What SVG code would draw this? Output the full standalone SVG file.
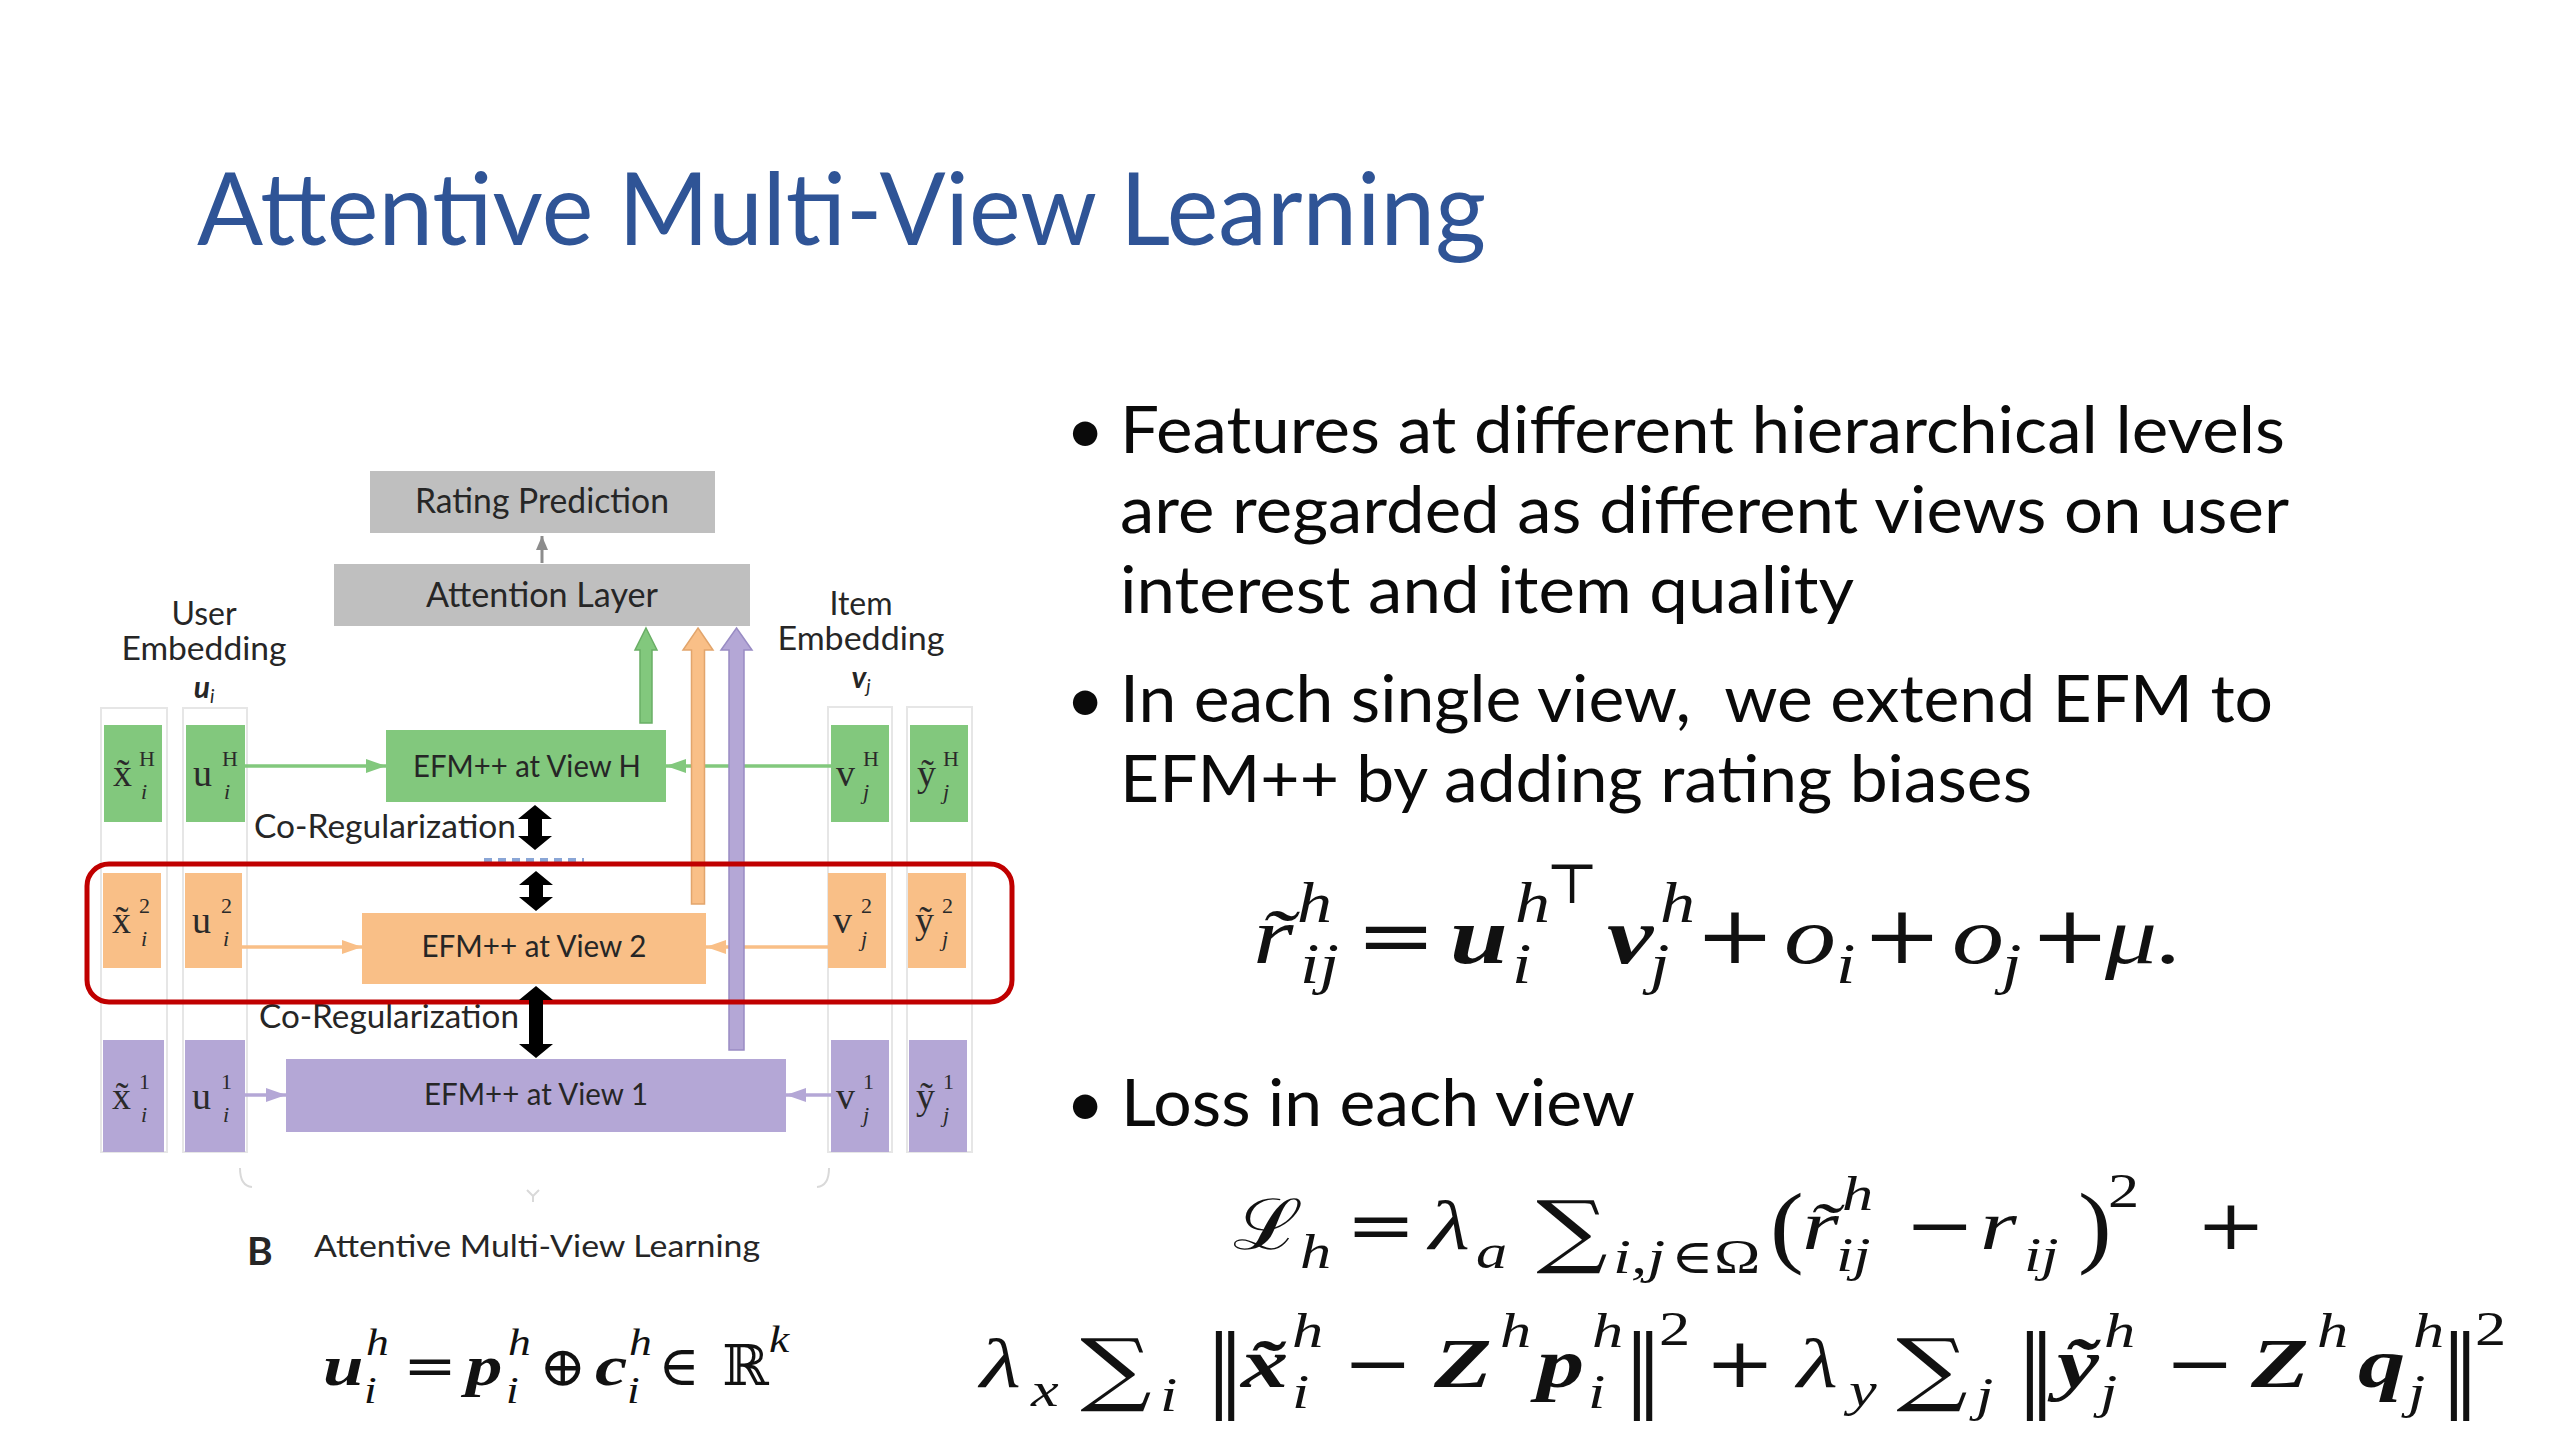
<svg xmlns="http://www.w3.org/2000/svg" width="2560" height="1440" viewBox="0 0 2560 1440">
<style>
.t{font-family:Lato,"Noto Sans",sans-serif;fill:#262626}
.body{font-family:Lato,"Noto Sans",sans-serif;font-size:66px;fill:#0a0a0a}
.lbl{font-family:"Liberation Serif","DejaVu Serif",serif;fill:#2a2a2a}
.m{font-family:"Liberation Serif","DejaVu Serif",serif;fill:#111}
.op{font-family:"DejaVu Serif","Liberation Serif",serif;fill:#111}
.i{font-style:italic}
.b{font-style:italic;font-weight:bold}
.g{fill:#82c87d}
.o{fill:#f9bf87}
.p{fill:#b4a7d6}
.gray{fill:#bfbfbf}
.col{fill:none;stroke:#e6e6e6;stroke-width:2}
.s80{font-size:80px}.s56{font-size:56px}.s70{font-size:70px}.s48{font-size:48px}.s38{font-size:38px}
.lm{font-size:38px}.ls{font-size:22px}
</style>
<defs>
<marker id="aG" markerUnits="userSpaceOnUse" markerWidth="20" markerHeight="14" viewBox="0 0 20 14" refX="20" refY="7" orient="auto"><path d="M0,0 L20,7 L0,14 z" fill="#82c87d"/></marker>
<marker id="aO" markerUnits="userSpaceOnUse" markerWidth="20" markerHeight="14" viewBox="0 0 20 14" refX="20" refY="7" orient="auto"><path d="M0,0 L20,7 L0,14 z" fill="#f9bf87"/></marker>
<marker id="aP" markerUnits="userSpaceOnUse" markerWidth="20" markerHeight="14" viewBox="0 0 20 14" refX="20" refY="7" orient="auto"><path d="M0,0 L20,7 L0,14 z" fill="#b4a7d6"/></marker>
<marker id="aK" markerUnits="userSpaceOnUse" markerWidth="14" markerHeight="12" viewBox="0 0 14 12" refX="14" refY="6" orient="auto"><path d="M0,0 L14,6 L0,12 z" fill="#8c8c8c"/></marker>
</defs>
<rect width="2560" height="1440" fill="#fff"/>

<text x="197" y="245" font-family="Lato,'Noto Sans',sans-serif" font-size="100" fill="#2f5496" textLength="1289" lengthAdjust="spacingAndGlyphs">Attentive Multi-View Learning</text>

<g id="bullets">
<text class="body" x="1066" y="453">•</text>
<text class="body" x="1120" y="453" textLength="1165" lengthAdjust="spacingAndGlyphs">Features at different hierarchical levels</text>
<text class="body" x="1120" y="533" textLength="1169" lengthAdjust="spacingAndGlyphs">are regarded as different views on user</text>
<text class="body" x="1120" y="613" textLength="734" lengthAdjust="spacingAndGlyphs">interest and item quality</text>
<text class="body" x="1066" y="722">•</text>
<text class="body" x="1120" y="722" xml:space="preserve" style="white-space:pre" textLength="1153" lengthAdjust="spacingAndGlyphs">In each single view,  we extend EFM to</text>
<text class="body" x="1120" y="802" textLength="912" lengthAdjust="spacingAndGlyphs">EFM++ by adding rating biases</text>
<text class="body" x="1066" y="1126">•</text>
<text class="body" x="1121" y="1126" textLength="514" lengthAdjust="spacingAndGlyphs">Loss in each view</text>
</g>

<g id="columns">
<rect class="col" x="101" y="708" width="66" height="444"/>
<rect class="col" x="183" y="708" width="64" height="444"/>
<rect class="col" x="828" y="707" width="64" height="445"/>
<rect class="col" x="907" y="707" width="65" height="445"/>
</g>

<g id="connectors">
<line x1="542" y1="563" x2="542" y2="536" stroke="#8c8c8c" stroke-width="3" marker-end="url(#aK)"/>
<line x1="245" y1="766" x2="386" y2="766" stroke="#82c87d" stroke-width="3.5" marker-end="url(#aG)"/>
<line x1="831" y1="766" x2="666" y2="766" stroke="#82c87d" stroke-width="3.5" marker-end="url(#aG)"/>
<line x1="242" y1="947" x2="362" y2="947" stroke="#f9bf87" stroke-width="3.5" marker-end="url(#aO)"/>
<line x1="828" y1="947" x2="706" y2="947" stroke="#f9bf87" stroke-width="3.5" marker-end="url(#aO)"/>
<line x1="245" y1="1095" x2="286" y2="1095" stroke="#b4a7d6" stroke-width="3.5" marker-end="url(#aP)"/>
<line x1="831" y1="1095" x2="786" y2="1095" stroke="#b4a7d6" stroke-width="3.5" marker-end="url(#aP)"/>
<polygon points="646,628 657,650 652,650 652,723 640,723 640,650 635,650" fill="#82c87d" stroke="#6aae66" stroke-width="1.5"/>
<polygon points="698,628 713,650 704.5,650 704.5,904 691.5,904 691.5,650 683,650" fill="#f9bf87" stroke="#e2a56c" stroke-width="1.5"/>
<polygon points="736.5,628 752,650 744,650 744,1050 729,1050 729,650 721,650" fill="#b4a7d6" stroke="#998cc4" stroke-width="1.5"/>
<polygon points="535,805 552,819 542,819 542,836 552,836 535,850 518,836 528,836 528,819 518,819" fill="#000"/>
<line x1="484" y1="860" x2="584" y2="860" stroke="#8aa6d6" stroke-width="4" stroke-dasharray="8 6"/>
<polygon points="536,871 553,885 543,885 543,897 553,897 536,911 519,897 529,897 529,885 519,885" fill="#000"/>
</g>

<g id="rating-prediction">
<rect class="gray" x="370" y="471" width="345" height="62"/>
<text class="t" x="542" y="513" font-size="34" text-anchor="middle" textLength="254" lengthAdjust="spacingAndGlyphs">Rating Prediction</text>
</g>
<g id="attention-layer">
<rect class="gray" x="334" y="564" width="416" height="62"/>
<text class="t" x="542" y="607" font-size="34" text-anchor="middle" textLength="232" lengthAdjust="spacingAndGlyphs">Attention Layer</text>
</g>

<g id="user-embedding-label">
<text class="t" x="204" y="625" font-size="32" text-anchor="middle">User</text>
<text class="t" x="204" y="660" font-size="32" text-anchor="middle" textLength="165" lengthAdjust="spacingAndGlyphs">Embedding</text>
<text class="t" x="204" y="698" font-size="30" text-anchor="middle" font-weight="bold" font-style="italic">u<tspan font-size="19" font-weight="normal" dy="5">i</tspan></text>
</g>
<g id="item-embedding-label">
<text class="t" x="861" y="615" font-size="32" text-anchor="middle">Item</text>
<text class="t" x="861" y="650" font-size="32" text-anchor="middle" textLength="167" lengthAdjust="spacingAndGlyphs">Embedding</text>
<text class="t" x="861" y="688" font-size="30" text-anchor="middle" font-weight="bold" font-style="italic">v<tspan font-size="19" font-weight="normal" dy="5">j</tspan></text>
</g>

<g id="xH"><rect class="g" x="104" y="725" width="58" height="97"/>
<text class="lbl lm" x="113" y="786">x̃</text><text class="lbl ls" x="139" y="766">H</text><text class="lbl ls i" x="141" y="799">i</text></g>
<g id="uH"><rect class="g" x="186" y="725" width="59" height="97"/>
<text class="lbl lm" x="193" y="786">u</text><text class="lbl ls" x="222" y="766">H</text><text class="lbl ls i" x="224" y="799">i</text></g>
<g id="efmH"><rect class="g" x="386" y="730" width="280" height="72"/>
<text class="t" x="527" y="777" font-size="30" text-anchor="middle" textLength="228" lengthAdjust="spacingAndGlyphs">EFM++ at View H</text></g>
<g id="vH"><rect class="g" x="831" y="725" width="58" height="97"/>
<text class="lbl lm" x="836" y="786">v</text><text class="lbl ls" x="863" y="766">H</text><text class="lbl ls i" x="863" y="799">j</text></g>
<g id="yH"><rect class="g" x="910" y="725" width="58" height="97"/>
<text class="lbl lm" x="917" y="786">ỹ</text><text class="lbl ls" x="943" y="766">H</text><text class="lbl ls i" x="943" y="799">j</text></g>

<text class="t" x="254" y="838" font-size="32" textLength="262" lengthAdjust="spacingAndGlyphs">Co-Regularization</text>

<g id="x2"><rect class="o" x="103" y="873" width="58" height="95"/>
<text class="lbl lm" x="112" y="933">x̃</text><text class="lbl ls" x="139" y="913">2</text><text class="lbl ls i" x="141" y="946">i</text></g>
<g id="u2"><rect class="o" x="185" y="873" width="57" height="95"/>
<text class="lbl lm" x="192" y="933">u</text><text class="lbl ls" x="221" y="913">2</text><text class="lbl ls i" x="223" y="946">i</text></g>
<g id="efm2"><rect class="o" x="362" y="913" width="344" height="71"/>
<text class="t" x="534" y="957" font-size="30" text-anchor="middle" textLength="225" lengthAdjust="spacingAndGlyphs">EFM++ at View 2</text></g>
<g id="v2"><rect class="o" x="828" y="873" width="58" height="95"/>
<text class="lbl lm" x="833" y="933">v</text><text class="lbl ls" x="861" y="913">2</text><text class="lbl ls i" x="861" y="946">j</text></g>
<g id="y2"><rect class="o" x="908" y="873" width="58" height="95"/>
<text class="lbl lm" x="915" y="933">ỹ</text><text class="lbl ls" x="942" y="913">2</text><text class="lbl ls i" x="942" y="946">j</text></g>

<g id="x1"><rect class="p" x="103" y="1040" width="61" height="112"/>
<text class="lbl lm" x="112" y="1109">x̃</text><text class="lbl ls" x="139" y="1089">1</text><text class="lbl ls i" x="141" y="1122">i</text></g>
<g id="u1"><rect class="p" x="185" y="1040" width="60" height="112"/>
<text class="lbl lm" x="192" y="1109">u</text><text class="lbl ls" x="221" y="1089">1</text><text class="lbl ls i" x="223" y="1122">i</text></g>
<g id="efm1"><rect class="p" x="286" y="1059" width="500" height="73"/>
<text class="t" x="536" y="1105" font-size="30" text-anchor="middle" textLength="224" lengthAdjust="spacingAndGlyphs">EFM++ at View 1</text></g>
<g id="v1"><rect class="p" x="831" y="1040" width="58" height="112"/>
<text class="lbl lm" x="836" y="1109">v</text><text class="lbl ls" x="863" y="1089">1</text><text class="lbl ls i" x="863" y="1122">j</text></g>
<g id="y1"><rect class="p" x="909" y="1040" width="58" height="112"/>
<text class="lbl lm" x="916" y="1109">ỹ</text><text class="lbl ls" x="943" y="1089">1</text><text class="lbl ls i" x="943" y="1122">j</text></g>

<text class="t" x="259" y="1028" font-size="32" textLength="260" lengthAdjust="spacingAndGlyphs">Co-Regularization</text>

<rect id="highlight" x="87" y="864" width="925" height="138" rx="22" fill="none" stroke="#c00000" stroke-width="5"/>
<polygon id="coreg-arrow" points="536,986 553,1000 543,1000 543,1044 553,1044 536,1058 519,1044 529,1044 529,1000 519,1000" fill="#000"/>

<g id="brace" fill="none" stroke="#d9d9d9" stroke-width="2">
<path d="M240,1168 Q240,1186 252,1187"/>
<path d="M829,1168 Q829,1186 817,1187"/>
<path d="M527,1190 L533,1196 L539,1190 M533,1196 L533,1202"/>
</g>

<g id="caption">
<text class="t" x="247" y="1265" font-size="39" font-weight="bold" fill="#111">B</text>
<text class="t" x="314" y="1257" font-size="31" textLength="446" lengthAdjust="spacingAndGlyphs">Attentive Multi-View Learning</text>
</g>

<g id="formula-u">
<text class="m b s56" transform="translate(323,1385) scale(1.3,1)">u</text>
<text class="m i s38" transform="translate(366,1355) scale(1.2,1)">h</text>
<text class="m i s38" transform="translate(364,1403) scale(1.2,1)">i</text>
<text class="op s56" text-anchor="middle" transform="translate(430,1385) scale(1.15,1)">=</text>
<text class="m b s56" transform="translate(466,1385) scale(1.3,1)">p</text>
<text class="m i s38" transform="translate(508,1355) scale(1.2,1)">h</text>
<text class="m i s38" transform="translate(506,1403) scale(1.2,1)">i</text>
<text class="op s56" text-anchor="middle" transform="translate(563,1386) scale(1.0,1)">⊕</text>
<text class="m b s56" transform="translate(595,1385) scale(1.3,1)">c</text>
<text class="m i s38" transform="translate(629,1355) scale(1.2,1)">h</text>
<text class="m i s38" transform="translate(627,1403) scale(1.2,1)">i</text>
<text class="op s56" text-anchor="middle" transform="translate(679,1385) scale(1.0,1)">∈</text>
<text class="op s56" transform="translate(722,1385) scale(1.0,1)">ℝ</text>
<text class="m i s38" transform="translate(769,1352) scale(1.2,1)">k</text>
</g>

<g id="formula-r">
<text class="m i s80" transform="translate(1253,963) scale(1.3,1)">r̃</text>
<text class="m i s56" transform="translate(1297,922) scale(1.25,1)">h</text>
<text class="m i s56" transform="translate(1300,983) scale(1.25,1)">ij</text>
<text class="op s80" text-anchor="middle" transform="translate(1396,963) scale(1.2,1)">=</text>
<text class="m b s80" transform="translate(1450,963) scale(1.3,1)">u</text>
<text class="m i s56" transform="translate(1515,922) scale(1.25,1)">h</text>
<text class="m i s56" transform="translate(1512,983) scale(1.25,1)">i</text>
<text class="op s56" text-anchor="middle" transform="translate(1572,903) scale(1.0,1)">⊤</text>
<text class="m b s80" transform="translate(1607,963) scale(1.3,1)">v</text>
<text class="m i s56" transform="translate(1660,922) scale(1.25,1)">h</text>
<text class="m i s56" transform="translate(1650,983) scale(1.25,1)">j</text>
<text class="op s80" text-anchor="middle" transform="translate(1735,963) scale(1.2,1)">+</text>
<text class="m i s80" transform="translate(1784,963) scale(1.3,1)">o</text>
<text class="m i s56" transform="translate(1836,983) scale(1.25,1)">i</text>
<text class="op s80" text-anchor="middle" transform="translate(1902,963) scale(1.2,1)">+</text>
<text class="m i s80" transform="translate(1952,963) scale(1.3,1)">o</text>
<text class="m i s56" transform="translate(2002,983) scale(1.25,1)">j</text>
<text class="op s80" text-anchor="middle" transform="translate(2070,963) scale(1.2,1)">+</text>
<text class="m i s80" transform="translate(2105,963) scale(1.3,1)">μ.</text>
</g>

<g id="formula-loss-1">
<text class="op s70" transform="translate(1233,1249) scale(1.2,1)">ℒ</text>
<text class="m i s48" transform="translate(1300,1268) scale(1.3,1)">h</text>
<text class="op s70" text-anchor="middle" transform="translate(1381,1249) scale(1.2,1)">=</text>
<text class="m i s70" transform="translate(1429,1249) scale(1.35,1)">λ</text>
<text class="m i s48" transform="translate(1476,1268) scale(1.3,1)">a</text>
<text class="op" font-size="80" text-anchor="middle" transform="translate(1572,1258) scale(1.25,1)">∑</text>
<text class="m i s48" transform="translate(1613,1273) scale(1.35,1)">i,j</text>
<text class="op s48" transform="translate(1671,1273) scale(1.2,1)">∈</text>
<text class="m s48" transform="translate(1714,1273) scale(1.3,1)">Ω</text>
<text class="m" font-size="92" transform="translate(1770,1256) scale(1.1,1)">(</text>
<text class="m i s70" transform="translate(1802,1249) scale(1.35,1)">r̃</text>
<text class="m i s48" transform="translate(1842,1210) scale(1.3,1)">h</text>
<text class="m i s48" transform="translate(1836,1271) scale(1.3,1)">ij</text>
<text class="op s70" text-anchor="middle" transform="translate(1940,1249) scale(1.2,1)">−</text>
<text class="m i s70" transform="translate(1980,1249) scale(1.35,1)">r</text>
<text class="m i s48" transform="translate(2024,1271) scale(1.3,1)">ij</text>
<text class="m" font-size="92" transform="translate(2078,1256) scale(1.1,1)">)</text>
<text class="m s48" transform="translate(2108,1207) scale(1.3,1)">2</text>
<text class="op s70" text-anchor="middle" transform="translate(2231,1249) scale(1.2,1)">+</text>
</g>

<g id="formula-loss-2">
<text class="m i s70" transform="translate(980,1387) scale(1.35,1)">λ</text>
<text class="m i s48" transform="translate(1031,1406) scale(1.3,1)">x</text>
<text class="op" font-size="80" text-anchor="middle" transform="translate(1116,1396) scale(1.25,1)">∑</text>
<text class="m i s48" transform="translate(1160,1411) scale(1.3,1)">i</text>
<text class="op" font-size="90" transform="translate(1206,1400) scale(0.85,1)">‖</text>
<text class="m b s70" transform="translate(1241,1387) scale(1.35,1)">x̃</text>
<text class="m i s48" transform="translate(1292,1347) scale(1.3,1)">h</text>
<text class="m i s48" transform="translate(1292,1408) scale(1.3,1)">i</text>
<text class="op s70" text-anchor="middle" transform="translate(1378,1387) scale(1.2,1)">−</text>
<text class="m b s70" transform="translate(1434,1387) scale(1.35,1)">Z</text>
<text class="m i s48" transform="translate(1500,1347) scale(1.3,1)">h</text>
<text class="m b s70" transform="translate(1537,1387) scale(1.35,1)">p</text>
<text class="m i s48" transform="translate(1592,1347) scale(1.3,1)">h</text>
<text class="m i s48" transform="translate(1588,1408) scale(1.3,1)">i</text>
<text class="op" font-size="90" transform="translate(1624,1400) scale(0.85,1)">‖</text>
<text class="m s48" transform="translate(1659,1345) scale(1.3,1)">2</text>
<text class="op s70" text-anchor="middle" transform="translate(1740,1387) scale(1.2,1)">+</text>
<text class="m i s70" transform="translate(1797,1387) scale(1.35,1)">λ</text>
<text class="m i s48" transform="translate(1849,1406) scale(1.3,1)">y</text>
<text class="op" font-size="80" text-anchor="middle" transform="translate(1932,1396) scale(1.25,1)">∑</text>
<text class="m i s48" transform="translate(1976,1411) scale(1.3,1)">j</text>
<text class="op" font-size="90" transform="translate(2017,1400) scale(0.85,1)">‖</text>
<text class="m b s70" transform="translate(2057,1387) scale(1.35,1)">ỹ</text>
<text class="m i s48" transform="translate(2104,1347) scale(1.3,1)">h</text>
<text class="m i s48" transform="translate(2100,1408) scale(1.3,1)">j</text>
<text class="op s70" text-anchor="middle" transform="translate(2200,1387) scale(1.2,1)">−</text>
<text class="m b s70" transform="translate(2251,1387) scale(1.35,1)">Z</text>
<text class="m i s48" transform="translate(2317,1347) scale(1.3,1)">h</text>
<text class="m b s70" transform="translate(2358,1387) scale(1.35,1)">q</text>
<text class="m i s48" transform="translate(2413,1347) scale(1.3,1)">h</text>
<text class="m i s48" transform="translate(2408,1408) scale(1.3,1)">j</text>
<text class="op" font-size="90" transform="translate(2441,1400) scale(0.85,1)">‖</text>
<text class="m s48" transform="translate(2475,1345) scale(1.3,1)">2</text>
</g>
</svg>
